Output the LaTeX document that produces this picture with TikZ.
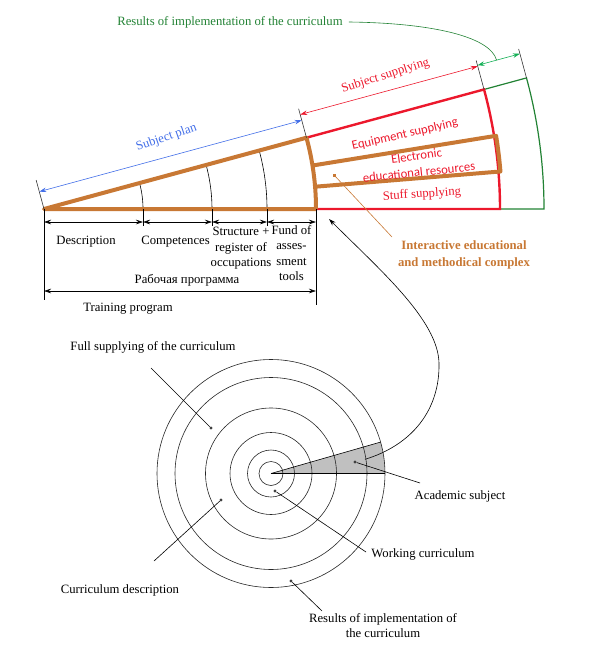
\documentclass[tikz,border=0pt]{standalone}
\usepackage{fontspec}
\setmainfont{Liberation Serif}
\newfontfamily\calibri{Carlito}
\usetikzlibrary{arrows.meta,calc}

\definecolor{planblue}{RGB}{66,110,232}
\definecolor{supred}{RGB}{236,24,44}
\definecolor{resgreen}{RGB}{34,130,52}
\definecolor{arrgreen}{RGB}{20,176,86}
\definecolor{iumk}{RGB}{200,120,52}
\definecolor{wedgegray}{RGB}{192,192,192}

\begin{document}
\begin{tikzpicture}[x=1pt,y=1pt,
    txt/.style={font=\fontsize{12.7}{15.5}\selectfont, inner sep=0pt, align=center},
    cal/.style={font=\calibri\fontsize{12.7}{15}\selectfont, inner sep=0pt, text=supred},
    dim/.style={{Stealth[length=7pt,width=4.5pt]}-{Stealth[length=7pt,width=4.5pt]}, line width=0.6pt},
    bar/.style={draw=iumk, line width=4pt, line join=round},
    ln/.style={line width=0.6pt},
    pt/.style={circle, fill=black!75, inner sep=0pt, minimum size=3.2pt}
]
\useasboundingbox (0,0) rectangle (590,-653);

% --- subject sector (top) ---
\def\ang{15.2}
\coordinate (apex) at (44,-209);
\coordinate (planend) at ($(apex)+(\ang:272)$);
\coordinate (supend) at ($(apex)+(\ang:456)$);
\coordinate (resend) at ($(apex)+(\ang:500)$);
\coordinate (planbase) at (316,-209);
\coordinate (supbase) at (500,-209);
\coordinate (resbase) at (544,-209);

\draw[resgreen, line width=1.2pt] (supend) -- (resend)
    arc[start angle=\ang, end angle=0, radius=500] -- (supbase);
\draw[supred, line width=2.4pt] (planend) -- (supend)
    arc[start angle=\ang, end angle=0, radius=456] -- (planbase);
\draw[bar] ($(apex)+(9.2:272)$) -- ($(apex)+(9.2:458)$)
    arc[start angle=9.2, end angle=4.7, radius=458] -- ($(apex)+(4.7:272)$);
\foreach \r in {99,168,223}
    \draw[ln] ($(apex)+(0:\r)$) arc[start angle=0, end angle=\ang, radius=\r];
\draw[bar] (planbase) -- (apex) -- (planend)
    arc[start angle=\ang, end angle=0, radius=272];

% ticks and dimensions above
\foreach \p in {apex,planend,supend,resend}
    \draw[ln, black!80] (\p) -- ($(\p)+(\ang+90:30)$);
\draw[dim, planblue] ($(apex)+(\ang+90:18)$) -- ($(planend)+(\ang+90:18)$);
\draw[dim, supred] ($(planend)+(\ang+90:24)$) -- ($(supend)+(\ang+90:24)$);
\draw[dim, arrgreen] ($(supend)+(\ang+90:25)$) -- coordinate[pos=0.45] (resmid) ($(resend)+(\ang+90:25)$);

\node[txt, text=planblue, rotate=19] (plan) at (166.5,-137.5) {Subject plan};
\node[txt, text=supred, rotate=17.5] (supply) at (385.5,-76) {Subject supplying};
\node[txt, text=resgreen] (results) at (230,-22) {Results of implementation of the curriculum};
\draw[resgreen, ln] (results.east) ++(6,0) coordinate (resfrom)
    .. controls (430,-23) and (490,-36) .. (resmid);

\node[cal, rotate=13] (equip) at (405,-134.5) {Equipment supplying};
\node[cal, rotate=8] (eer1) at (416.5,-156) {Electronic};
\node[cal, rotate=6] (eer2) at (419,-172) {educational resources};
\node[txt, text=supred, rotate=3.6] (stuff) at (422,-194.5) {Stuff supplying};

\node[txt, text=iumk, font=\fontsize{12.7}{16.5}\selectfont\bfseries] (iumk) at (464,-255)
    {Interactive educational\\and methodical complex};
\node[rectangle, fill=iumk, inner sep=0pt, minimum size=3pt] (diumk) at (334,-175) {};
\coordinate (liumk) at (392,-237);
\draw[iumk, ln] (liumk) -- (diumk);

% dimensions below
\draw[ln] (apex) -- (44,-300);
\draw[ln] (planbase) -- (316,-305);
\foreach \x in {143,212,267}
    \draw[ln] (\x,-209) -- (\x,-226);
\coordinate (d0) at (44,-222);
\coordinate (d1) at (143,-222);
\coordinate (d2) at (212,-222);
\coordinate (d3) at (267,-222);
\coordinate (d4) at (316,-222);
\draw[dim] (d0) -- (d1);
\draw[dim] (d1) -- (d2);
\draw[dim] (d2) -- (d3);
\draw[dim] (d3) -- (d4);
\coordinate (t0) at (44,-291);
\coordinate (t1) at (316,-291);
\draw[dim] (t0) -- (t1);

\node[txt] (descr) at (86,-242) {Description};
\node[txt] (comp) at (175.5,-242) {Competences};
\node[txt] (struct) at (241,-248.5) {Structure +\\register of\\occupations};
\node[txt] (fund) at (291.5,-253) {Fund of\\asses-\\sment\\tools};
\node[txt] (rp) at (187,-280) {Рабочая программа};
\node[txt] (train) at (128,-309) {Training program};

% --- curriculum circles (bottom) ---
\coordinate (c) at (271,-473.5);
\fill[wedgegray] (c) -- ++(0:114) arc[start angle=0, end angle=16, radius=114] -- cycle;
\foreach \r in {12,23.5,41,65.5,96,114}
    \draw[ln, black!85] (c) circle[radius=\r];
\draw[ln] (c) -- ++(0:114);
\draw[ln] (c) -- ++(16:114);

\coordinate (subjfrom) at (365,-459.3);
\coordinate (subjto) at (329,-219);
\draw[ln, -{Stealth[length=7pt,width=4.5pt]}] (subjfrom)
    .. controls (412,-445) and (440,-410) .. (439,-363)
    .. controls (438,-320) and (380,-270) .. (subjto);

\node[txt] (full) at (153,-347) {Full supplying of the curriculum};
\node[txt] (cdesc) at (120,-590) {Curriculum description};
\node[txt] (work) at (423,-554) {Working curriculum};
\node[txt] (acad) at (460,-496) {Academic subject};
\node[txt] (impl) at (383,-625.5) {Results of implementation of\\the curriculum};

\node[pt] (dfull) at (211,-428) {};
\node[pt] (dcdesc) at (221,-500) {};
\node[pt] (dwork) at (275,-491) {};
\node[pt] (dacad) at (355,-462) {};
\node[pt] (dimpl) at (291,-581) {};

\coordinate (lfull) at (151,-368);
\coordinate (lcdesc) at (154,-561);
\coordinate (lwork) at (366,-552);
\coordinate (lacad) at (420,-483);
\coordinate (limpl) at (322,-611);
\draw[ln] (lfull) -- (dfull);
\draw[ln] (lcdesc) -- (dcdesc);
\draw[ln] (lwork) -- (dwork);
\draw[ln] (lacad) -- (dacad);
\draw[ln] (limpl) -- (dimpl);
\end{tikzpicture}
\end{document}
